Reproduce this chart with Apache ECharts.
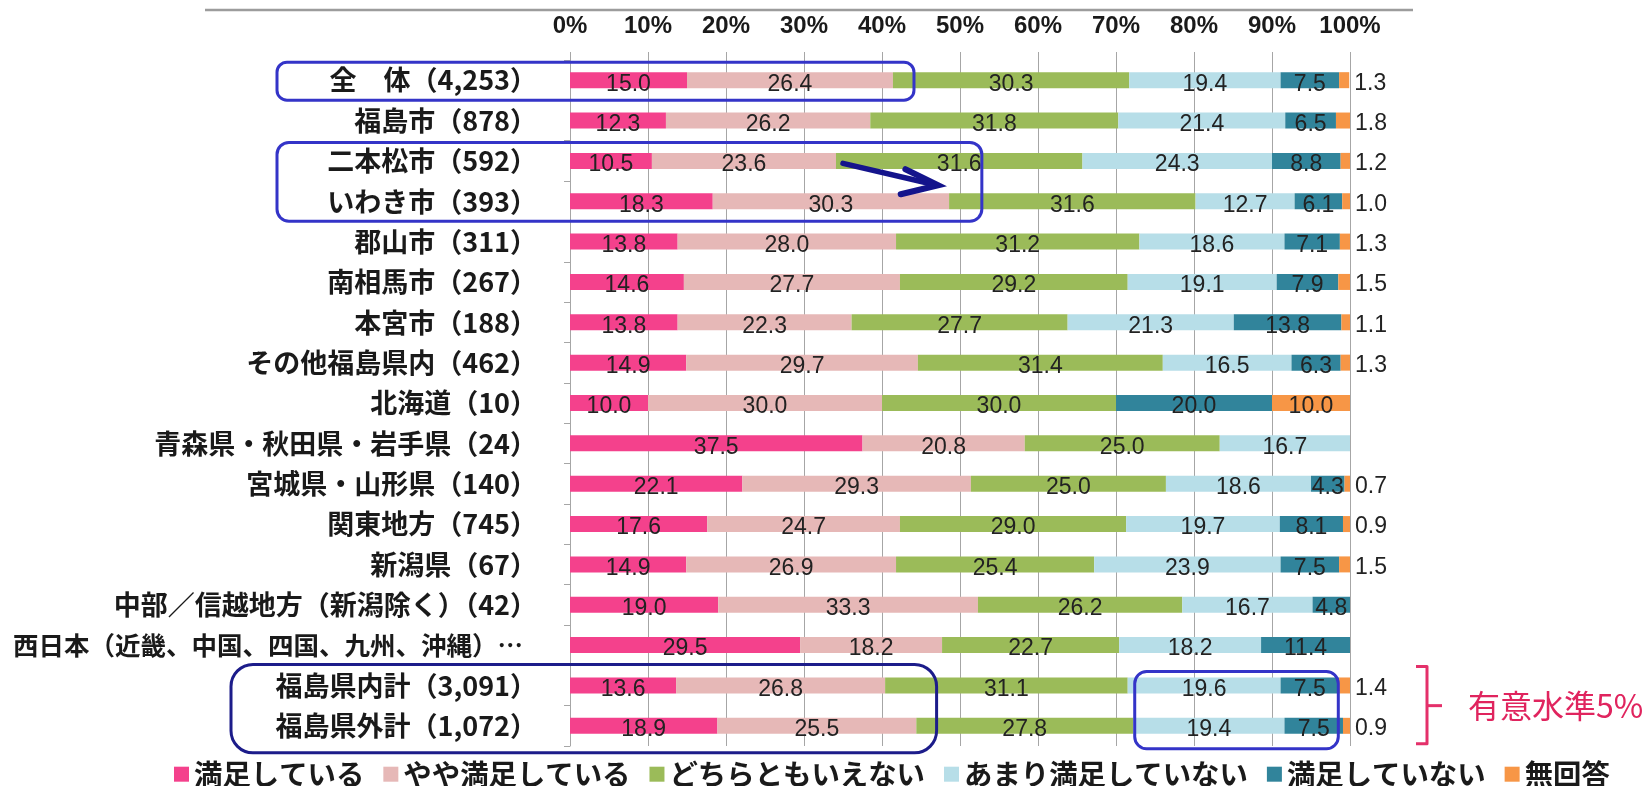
<!DOCTYPE html>
<html>
<head>
<meta charset="utf-8">
<script src="https://cdn.jsdelivr.net/npm/echarts@6/dist/echarts.min.js"></script>
<style>
  html, body { margin: 0; padding: 0; background: #ffffff; }
  #chart { width: 1652px; height: 786px; }
</style>
</head>
<body>
<div id="chart"></div>
<script>
// Respondent groups (sample size in brackets), top to bottom
const categories = [
  '全　体（4,253）',
  '福島市（878）',
  '二本松市（592）',
  'いわき市（393）',
  '郡山市（311）',
  '南相馬市（267）',
  '本宮市（188）',
  'その他福島県内（462）',
  '北海道（10）',
  '青森県・秋田県・岩手県（24）',
  '宮城県・山形県（140）',
  '関東地方（745）',
  '新潟県（67）',
  '中部／信越地方（新潟除く）（42）',
  '西日本（近畿、中国、四国、九州、沖縄）…',
  '福島県内計（3,091）',
  '福島県外計（1,072）'
];

const seriesNames = ['満足している', 'やや満足している', 'どちらともいえない', 'あまり満足していない', '満足していない', '無回答'];
const seriesColors = ['#F4418C', '#E6B8B7', '#9BBB59', '#B7DEE8', '#31849B', '#F79646'];

// Share of answers (%) per group
const satisfied    = [15.0, 12.3, 10.5, 18.3, 13.8, 14.6, 13.8, 14.9, 10.0, 37.5, 22.1, 17.6, 14.9, 19.0, 29.5, 13.6, 18.9];
const somewhat     = [26.4, 26.2, 23.6, 30.3, 28.0, 27.7, 22.3, 29.7, 30.0, 20.8, 29.3, 24.7, 26.9, 33.3, 18.2, 26.8, 25.5];
const neutral      = [30.3, 31.8, 31.6, 31.6, 31.2, 29.2, 27.7, 31.4, 30.0, 25.0, 25.0, 29.0, 25.4, 26.2, 22.7, 31.1, 27.8];
const notVery      = [19.4, 21.4, 24.3, 12.7, 18.6, 19.1, 21.3, 16.5, 0, 16.7, 18.6, 19.7, 23.9, 16.7, 18.2, 19.6, 19.4];
const notAtAll     = [7.5, 6.5, 8.8, 6.1, 7.1, 7.9, 13.8, 6.3, 20.0, 0, 4.3, 8.1, 7.5, 4.8, 11.4, 7.5, 7.5];
const noAnswer     = [1.3, 1.8, 1.2, 1.0, 1.3, 1.5, 1.1, 1.3, 10.0, 0, 0.7, 0.9, 1.5, 0, 0, 1.4, 0.9];

const xTicks = { min: 0, max: 100, interval: 10 };

const CJK = '"Noto Sans CJK JP", "Noto Sans CJK SC", sans-serif';
const NUM = '"Liberation Sans", Arial, sans-serif';

const valueLabel = {
  show: true,
  position: 'inside',
  fontFamily: NUM,
  fontSize: 23,
  color: '#222222',
  offset: [0, 4],
  formatter: p => (p.value > 0 ? p.value.toFixed(1) : '')
};

const allValues = [satisfied, somewhat, neutral, notVery, notAtAll, noAnswer];

const series = allValues.map((vals, i) => {
  const isLast = i === allValues.length - 1;
  return {
    name: seriesNames[i],
    type: 'bar',
    stack: 'total',
    barWidth: 16,
    itemStyle: { color: seriesColors[i] },
    label: valueLabel,
    // small "no answer" shares are written just past the end of the bar
    data: vals.map(v => (isLast && v > 0 && v < 5)
      ? { value: v, label: { position: 'right', distance: 5, offset: [0, 3] } }
      : v)
  };
});

const chart = echarts.init(document.getElementById('chart'), null, { renderer: 'canvas' });

chart.setOption({
  animation: false,
  backgroundColor: '#ffffff',
  color: seriesColors,
  grid: { left: 570, right: 302, top: 60, bottom: 40, containLabel: false },
  xAxis: {
    type: 'value',
    position: 'top',
    min: xTicks.min,
    max: xTicks.max,
    interval: xTicks.interval,
    axisLine: { show: false },
    axisTick: { show: true, length: 8, lineStyle: { color: '#a6a6a6' } },
    splitLine: { show: true, lineStyle: { color: '#a6a6a6', width: 1 } },
    axisLabel: {
      formatter: '{value}%',
      margin: 22,
      fontFamily: NUM,
      fontWeight: 'bold',
      fontSize: 24,
      color: '#1a1a1a'
    }
  },
  yAxis: {
    type: 'category',
    inverse: true,
    data: categories,
    axisLine: { show: true, lineStyle: { color: '#a6a6a6', width: 1 } },
    axisTick: { show: true, length: 6, lineStyle: { color: '#a6a6a6' } },
    axisLabel: {
      margin: 33,
      fontFamily: CJK,
      fontWeight: 'bold',
      fontSize: 27,
      color: '#1a1a1a',
      // the cut-off western Japan label is set a little tighter
      formatter: v => (v.endsWith('…') ? '{long|' + v + '}' : v),
      rich: {
        long: {
          fontFamily: CJK,
          fontWeight: 'bold',
          fontSize: 25.5,
          color: '#1a1a1a',
          padding: [0, 14, 0, 0]
        }
      }
    }
  },
  legend: {
    data: seriesNames,
    left: 169,
    top: 755,
    icon: 'rect',
    itemWidth: 15,
    itemHeight: 15,
    itemGap: 19,
    textStyle: { fontFamily: CJK, fontWeight: 'bold', fontSize: 28.4, color: '#1a1a1a' }
  },
  series: series
});

// Call-out shapes drawn over the finished chart, placed from the axes
const px = v => chart.convertToPixel({ xAxisIndex: 0 }, v);
const py = i => chart.convertToPixel({ yAxisIndex: 0 }, i);

const rowAll = 0, rowNihon = 2, rowIwaki = 3, rowIn = 15, rowOut = 16;
const blue = '#3434C8';
const navy = '#1C1C8A';
const red = '#E4306A';

const box = (x1, y1, x2, y2, color, r) => ({
  type: 'rect',
  shape: { x: x1, y: y1, width: x2 - x1, height: y2 - y1, r: r },
  style: { fill: null, stroke: color, lineWidth: 3 },
  z: 100
});

const yInMid = (py(rowIn) + py(rowOut)) / 2;

chart.setOption({
  graphic: [
    // rule along the top of the slide
    { type: 'line', shape: { x1: 205, y1: 10, x2: 1413, y2: 10 }, style: { stroke: '#9c9c9c', lineWidth: 2.5 }, z: 100 },
    box(277, py(rowAll) - 18, px(44.1), py(rowAll) + 20, blue, 10),
    box(277, py(rowNihon) - 18.5, px(52.8), py(rowIwaki) + 20, blue, 12),
    box(231, py(rowIn) - 21, px(47.0), py(rowOut) + 27, navy, 22),
    box(px(72.4), py(rowIn) - 14, px(98.5), py(rowOut) + 23, blue, 12),
    // arrow between the two highlighted cities
    {
      type: 'polyline',
      shape: { points: [[px(35.0), py(rowNihon) + 2.5], [px(46.8), py(rowIwaki) - 16.5]] },
      style: { stroke: '#14148C', lineWidth: 5.5, lineCap: 'round' },
      z: 101
    },
    {
      type: 'polyline',
      shape: { points: [[px(43.0), py(rowIwaki) - 32], [px(47.2), py(rowIwaki) - 16], [px(42.4), py(rowIwaki) - 7]] },
      style: { stroke: '#14148C', lineWidth: 6, lineJoin: 'miter', lineCap: 'round', fill: null },
      z: 101
    },
    // bracket for the significance note
    {
      type: 'polyline',
      shape: { points: [[1416, py(rowIn) - 19], [1427, py(rowIn) - 19], [1427, py(rowOut) + 18], [1416, py(rowOut) + 18]] },
      style: { stroke: red, lineWidth: 3, fill: null, lineJoin: 'round' },
      z: 100
    },
    { type: 'line', shape: { x1: 1427, y1: yInMid, x2: 1442, y2: yInMid }, style: { stroke: red, lineWidth: 3 }, z: 100 },
    {
      type: 'text',
      x: 1468,
      y: yInMid,
      style: { text: '有意水準5%', fill: '#E0245E', fontFamily: CJK, fontSize: 32, verticalAlign: 'middle' },
      z: 100
    }
  ]
});
</script>
</body>
</html>
